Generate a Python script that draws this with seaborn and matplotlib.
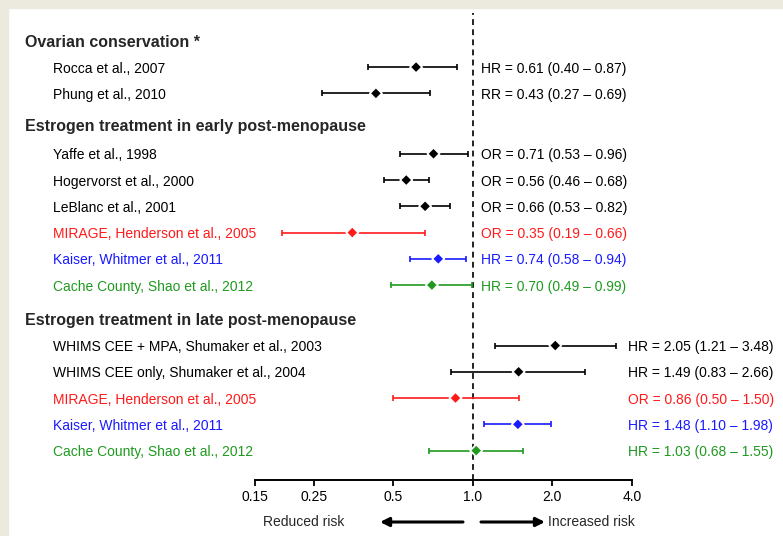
import numpy as np
import pandas as pd
import matplotlib.pyplot as plt
import seaborn as sns
from matplotlib.patches import Rectangle
from matplotlib.transforms import blended_transform_factory, offset_copy
from matplotlib.ticker import FixedLocator, FixedFormatter, NullLocator

# groups and studies (top to bottom)
headers = ['Ovarian conservation *',
           'Estrogen treatment in early post-menopause',
           'Estrogen treatment in late post-menopause']
group = [0, 0, 1, 1, 1, 1, 1, 1, 2, 2, 2, 2, 2]
studies = ['Rocca et al., 2007', 'Phung et al., 2010',
           'Yaffe et al., 1998', 'Hogervorst et al., 2000', 'LeBlanc et al., 2001',
           'MIRAGE, Henderson et al., 2005', 'Kaiser, Whitmer et al., 2011',
           'Cache County, Shao et al., 2012',
           'WHIMS CEE + MPA, Shumaker et al., 2003', 'WHIMS CEE only, Shumaker et al., 2004',
           'MIRAGE, Henderson et al., 2005', 'Kaiser, Whitmer et al., 2011',
           'Cache County, Shao et al., 2012']
measure = ['HR', 'RR', 'OR', 'OR', 'OR', 'OR', 'HR', 'HR', 'HR', 'HR', 'OR', 'HR', 'HR']
estimate = [0.61, 0.43, 0.71, 0.56, 0.66, 0.35, 0.74, 0.70, 2.05, 1.49, 0.86, 1.48, 1.03]
lower = [0.40, 0.27, 0.53, 0.46, 0.53, 0.19, 0.58, 0.49, 1.21, 0.83, 0.50, 1.10, 0.68]
upper = [0.87, 0.69, 0.96, 0.68, 0.82, 0.66, 0.94, 0.99, 3.48, 2.66, 1.50, 1.98, 1.55]
source = ['other', 'other', 'other', 'other', 'other', 'MIRAGE', 'Kaiser', 'Cache',
          'other', 'other', 'MIRAGE', 'Kaiser', 'Cache']
ticks = [0.15, 0.25, 0.5, 1.0, 2.0, 4.0]
tick_labels = ['0.15', '0.25', '0.5', '1.0', '2.0', '4.0']

colors = {'other': 'black', 'MIRAGE': '#ff1a1a', 'Kaiser': '#1a1aff', 'Cache': '#1f9a1f'}

# row layout: gap before each header, gap from header to its first study
header_gap = [0.0, 1.2, 1.3]
first_gap = [1.0, 1.1, 1.0]
rows, header_rows = [], []
pos = 0.0
for g in range(len(headers)):
    pos += header_gap[g]
    header_rows.append(pos)
    first = True
    for i in range(len(studies)):
        if group[i] == g:
            pos += first_gap[g] if first else 1.0
            first = False
            rows.append(pos)

df = pd.DataFrame({'study': studies, 'group': group, 'measure': measure,
                   'est': estimate, 'lo': lower, 'hi': upper,
                   'src': source, 'row': rows})

sns.set_style('white')
plt.rcParams['font.family'] = ['Liberation Sans', 'DejaVu Sans']

fig = plt.figure(figsize=(7.83, 5.36), dpi=100)
fig.patch.set_facecolor('white')
W, H = 783, 536
beige = '#ece9df'
fig.patches.append(Rectangle((0, 0), 8 / W, 1, transform=fig.transFigure, color=beige, zorder=-1))
fig.patches.append(Rectangle((0, 1 - 8 / H), 1, 8 / H, transform=fig.transFigure, color=beige, zorder=-1))

ax = fig.add_axes([255 / W, (H - 480) / H, 377 / W, (480 - 8) / H])
ax.set_facecolor('none')

for _, r in df.iterrows():
    ax.errorbar(r['est'], r['row'], xerr=[[r['est'] - r['lo']], [r['hi'] - r['est']]],
                fmt='none', ecolor=colors[r['src']], elinewidth=1.2, capsize=2,
                capthick=1.2, zorder=2)

sns.scatterplot(data=df, x='est', y='row', hue='src', palette=colors, marker='D',
                s=38, edgecolor='white', linewidth=1.3, legend=False, zorder=3, ax=ax)

ax.set_xscale('log')
ax.set_xlim(0.15, 4.0)
ax.set_ylim(16.72, -1.25)
ax.axvline(1.0, ymin=0, ymax=0.99, color='#222222', lw=1.4, ls=(0, (3, 2.2)), zorder=1)

ax.xaxis.set_major_locator(FixedLocator(ticks))
ax.xaxis.set_major_formatter(FixedFormatter(tick_labels))
ax.xaxis.set_minor_locator(NullLocator())
ax.tick_params(axis='x', direction='out', length=4, width=1.3, labelsize=10, pad=3,
               bottom=True, colors='black')
ax.set_yticks([])
ax.set_xlabel('')
ax.set_ylabel('')
for s in ['top', 'right', 'left']:
    ax.spines[s].set_visible(False)
ax.spines['bottom'].set_linewidth(1.4)
ax.spines['bottom'].set_color('black')

# text (nudged down a touch so it sits level with the markers)
tr = offset_copy(blended_transform_factory(fig.transFigure, ax.transData),
                 fig=fig, y=-1.5, units='dots')
for g, h in enumerate(headers):
    ax.text(25 / W, header_rows[g], h, transform=tr, fontsize=11.5, fontweight='bold',
            va='center', ha='left', clip_on=False)
for _, r in df.iterrows():
    c = colors[r['src']]
    ax.text(53 / W, r['row'], r['study'], transform=tr, fontsize=10, color=c,
            va='center', ha='left', clip_on=False)
    xs = 628 / W if r['group'] == 2 else 481 / W
    ax.text(xs, r['row'], f"{r['measure']} = {r['est']:.2f} ({r['lo']:.2f} \u2013 {r['hi']:.2f})",
            transform=tr, fontsize=10, color=c, va='center', ha='left', clip_on=False)

# bottom arrows
yb = 1 - 522 / H
fig.text(304 / W, yb, 'Reduced risk', fontsize=10, ha='center', va='center')
fig.text(548 / W, yb, 'Increased risk', fontsize=10, ha='left', va='center')
ap = dict(arrowstyle='-|>', color='black', lw=2.2, mutation_scale=13, shrinkA=0, shrinkB=0)
ax.annotate('', xy=(380 / W, yb), xytext=(463 / W, yb), xycoords='figure fraction',
            textcoords='figure fraction', arrowprops=ap)
ax.annotate('', xy=(545 / W, yb), xytext=(481 / W, yb), xycoords='figure fraction',
            textcoords='figure fraction', arrowprops=ap)

fig.savefig('out.png', dpi=100, facecolor='white')
